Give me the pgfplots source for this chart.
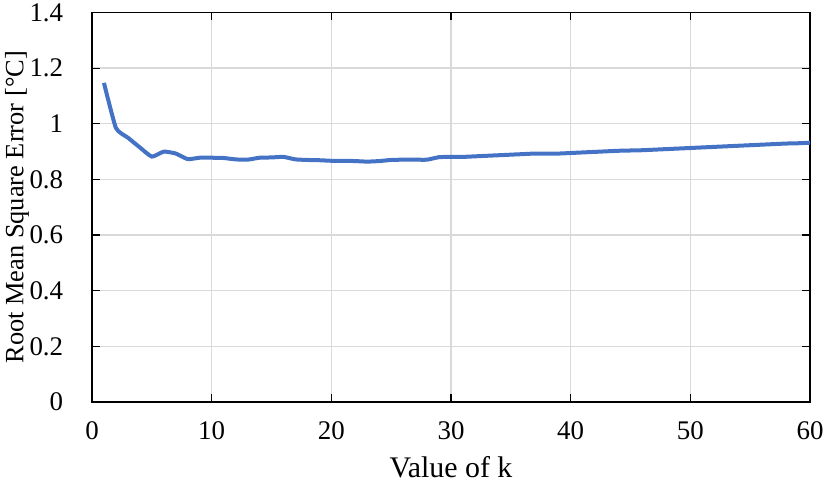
\documentclass[border=0pt]{standalone}
\usepackage{fontspec}
\setmainfont{Liberation Serif}
\usepackage{pgfplots}
\pgfplotsset{compat=1.18}
\definecolor{lineblue}{HTML}{4472C4}
\definecolor{gridgray}{HTML}{D9D9D9}
\begin{document}
\fontsize{26}{30}\selectfont
\begin{tikzpicture}[x=1bp,y=1bp]
\begin{axis}[
  scale only axis,
  width=718bp, height=389.5bp,
  xmin=0, xmax=60, ymin=0, ymax=1.4,
  xtick={0,10,...,60},
  ytick={0,0.2,0.4,0.6,0.8,1,1.2,1.4},
  yticklabels={0,0.2,0.4,0.6,0.8,1,1.2,1.4},
  /pgf/number format/assume math mode=true,
  tick align=inside,
  major tick length=8bp,
  tick style={black, line width=1.2bp},
  axis line style={black, line width=1.3bp},
  grid=major,
  major grid style={gridgray, line width=1.3bp},
  xlabel={Value of k},
  ylabel={Root Mean Square Error [°C]},
  ticklabel style={font=\fontsize{27}{30}\selectfont},
  xlabel style={font=\fontsize{30}{34}\selectfont, yshift=1bp},
  ylabel style={font=\fontsize{26.5}{30}\selectfont, yshift=-17bp},
  xticklabel style={yshift=-11bp},
  yticklabel style={xshift=-20bp},
]
\addplot[lineblue, line width=4bp, smooth, tension=0.3] coordinates {
(1,1.147) (2,0.985) (3,0.950) (4,0.915) (5,0.882) (6,0.900) (7,0.893) (8,0.873)
(9,0.878) (10,0.878) (11,0.877) (12,0.872) (13,0.871) (14,0.878) (15,0.879)
(16,0.881) (17,0.872) (18,0.870) (19,0.869) (20,0.867) (21,0.867) (22,0.866)
(23,0.864) (24,0.866) (25,0.870) (26,0.871) (27,0.871) (28,0.871) (29,0.880)
(30,0.881) (31,0.881) (32,0.883) (33,0.885) (34,0.887) (35,0.889) (36,0.891)
(37,0.893) (38,0.893) (39,0.893) (40,0.895) (41,0.897) (42,0.899) (43,0.901)
(44,0.903) (45,0.904) (46,0.905) (47,0.907) (48,0.909) (49,0.911) (50,0.913)
(51,0.915) (52,0.917) (53,0.919) (54,0.921) (55,0.923) (56,0.925) (57,0.927)
(58,0.929) (59,0.930) (60,0.932)
};
\coordinate (bl) at (rel axis cs:0,0);
\coordinate (tr) at (rel axis cs:1,1);
\end{axis}
\pgfresetboundingbox
\path ([shift={(-92bp,-83bp)}]bl) rectangle ([shift={(17bp,12.5bp)}]tr);
\end{tikzpicture}
\end{document}
